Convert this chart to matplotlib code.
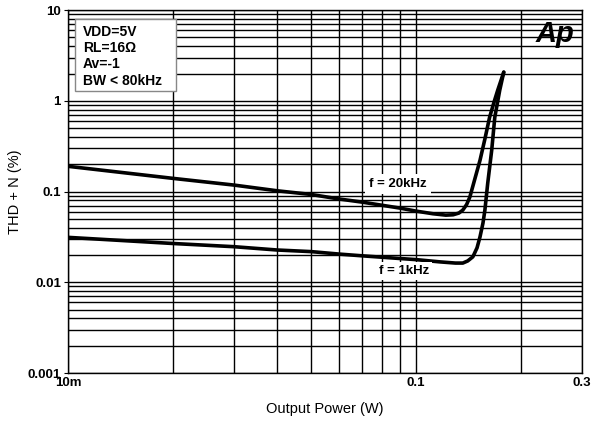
import matplotlib.pyplot as plt
from matplotlib.patches import Rectangle
from matplotlib.ticker import FixedLocator, NullFormatter, LogLocator

plt.rcParams['font.family'] = ['Liberation Sans', 'DejaVu Sans']

# THD+N vs output power
p_20k = [0.01, 0.02, 0.03, 0.04, 0.05, 0.06, 0.07, 0.09, 0.1, 0.112, 0.122,
         0.128, 0.133, 0.1365, 0.14, 0.143, 0.148, 0.153, 0.158, 0.163,
         0.168, 0.172, 0.179]
thd_20k = [0.19, 0.14, 0.118, 0.102, 0.093, 0.083, 0.0766, 0.0658, 0.061,
           0.057, 0.055, 0.0555, 0.058, 0.0625, 0.072, 0.087, 0.14, 0.222,
           0.38, 0.66, 0.98, 1.31, 2.07]

p_1k = [0.01, 0.02, 0.03, 0.04, 0.05, 0.06, 0.07, 0.09, 0.1, 0.1173, 0.13,
        0.1365, 0.141, 0.1459, 0.15, 0.153, 0.156, 0.158, 0.161, 0.1653,
        0.1687, 0.1743, 0.179]
thd_1k = [0.0313, 0.0268, 0.0247, 0.0227, 0.0218, 0.0205, 0.0196, 0.0183,
          0.0178, 0.0168, 0.0163, 0.0163, 0.0172, 0.0191, 0.024, 0.0318,
          0.045, 0.0625, 0.124, 0.287, 0.66, 1.31, 2.07]

x_ticks = [0.01, 0.1, 0.3]
x_labels = ['10m', '0.1', '0.3']
y_ticks = [0.001, 0.01, 0.1, 1, 10]
y_labels = ['0.001', '0.01', '0.1', '1', '10']

conditions = 'VDD=5V\nRL=16\u03a9\nAv=-1\nBW < 80kHz'

fig = plt.figure(figsize=(6.01, 4.22), dpi=100)
ax = fig.add_axes([0.113, 0.116, 0.855, 0.86])

ax.set_xscale('log')
ax.set_yscale('log')
ax.set_xlim(0.01, 0.3)
ax.set_ylim(0.001, 10)

ax.xaxis.set_major_locator(FixedLocator(x_ticks))
ax.set_xticklabels(x_labels, fontweight='bold', fontsize=9.5)
ax.xaxis.set_minor_locator(LogLocator(base=10, subs=range(2, 10), numticks=20))
ax.xaxis.set_minor_formatter(NullFormatter())
ax.yaxis.set_major_locator(FixedLocator(y_ticks))
ax.set_yticklabels(y_labels, fontweight='bold', fontsize=9.5)
ax.yaxis.set_minor_locator(LogLocator(base=10, subs=range(2, 10), numticks=20))
ax.yaxis.set_minor_formatter(NullFormatter())
ax.tick_params(which='both', length=0, pad=3)
ax.tick_params(axis='y', which='major', length=3, pad=2)

ax.grid(True, which='both', color='black', linewidth=1.0)
ax.set_axisbelow(True)
for s in ax.spines.values():
    s.set_linewidth(1.0)

ax.plot(p_20k, thd_20k, color='black', linewidth=2.6, solid_capstyle='round', zorder=3)
ax.plot(p_1k, thd_1k, color='black', linewidth=2.6, solid_capstyle='round', zorder=3)

ax.text(0.0887, 0.121, 'f = 20kHz', fontsize=9.5, fontweight='bold', ha='center', va='center',
        bbox=dict(facecolor='white', edgecolor='none', pad=3), zorder=4)
ax.text(0.0925, 0.0134, 'f = 1kHz', fontsize=9.5, fontweight='bold', ha='center', va='center',
        bbox=dict(facecolor='white', edgecolor='none', pad=2), zorder=4)

# conditions box
ax.add_patch(Rectangle((0.0136, 0.777), 0.1965, 0.198, transform=ax.transAxes,
                       facecolor='white', edgecolor='#888888', linewidth=1.0, zorder=5))
ax.text(0.029, 0.96, conditions, transform=ax.transAxes, fontsize=10, fontweight='bold',
        ha='left', va='top', linespacing=1.22, zorder=6)

ax.text(0.2507, 4.44, 'Ap', fontsize=21, fontweight='bold', fontstyle='italic',
        ha='center', va='baseline', zorder=5)

ax.set_xlabel('Output Power (W)', fontsize=10.5, labelpad=9)
ax.set_ylabel('THD + N (%)', fontsize=10.5, labelpad=4)

plt.savefig('out.png', dpi=100)
